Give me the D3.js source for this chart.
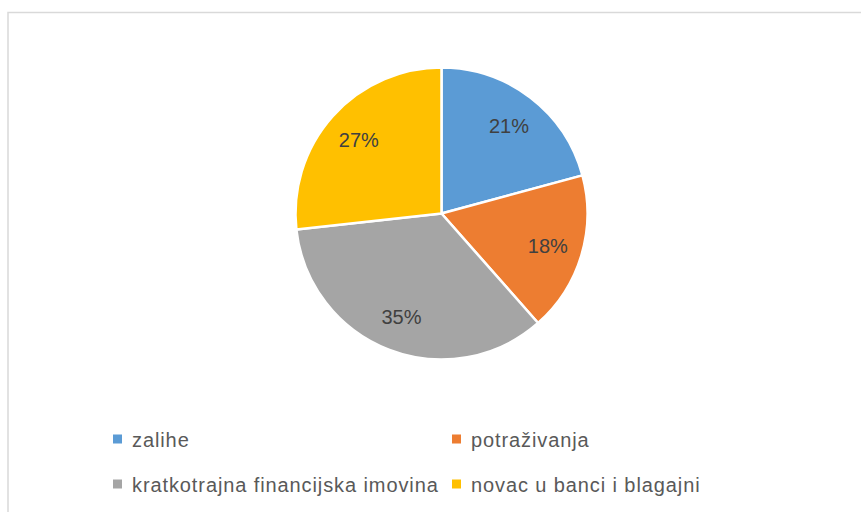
<!DOCTYPE html>
<html>
<head>
<meta charset="utf-8">
<script src="https://cdn.jsdelivr.net/npm/d3@7"></script>
<style>
  html, body { margin: 0; padding: 0; background: #fff; }
  svg { display: block; }
</style>
</head>
<body>
<svg id="chart" width="861" height="512"></svg>
<script>
const categories = ["zalihe", "potraživanja", "kratkotrajna financijska imovina", "novac u banci i blagajni"];
const values = [20.8, 17.7, 34.75, 26.75];
const labels = ["21%", "18%", "35%", "27%"];
const colors = ["#5B9BD5", "#ED7D31", "#A5A5A5", "#FFC000"];

const svg = d3.select("#chart");
const fontFam = "'Liberation Sans', Arial, sans-serif";

// chart frame
svg.append("rect")
  .attr("x", 8).attr("y", 12.5)
  .attr("width", 900).attr("height", 600)
  .attr("fill", "#fff")
  .attr("stroke", "#d9d9d9").attr("stroke-width", 1.5);

const cx = 441.5, cy = 213.5, R = 146;
const data = categories.map((c, i) => ({ cat: c, value: values[i], label: labels[i], color: colors[i] }));

const pie = d3.pie().value(d => d.value).sort(null);
const arc = d3.arc().innerRadius(0).outerRadius(R);
const labelArc = d3.arc().innerRadius(111).outerRadius(111);

const g = svg.append("g").attr("transform", `translate(${cx},${cy})`);
const arcs = pie(data);

g.selectAll("path.slice").data(arcs).join("path")
  .attr("class", "slice")
  .attr("d", arc)
  .attr("fill", d => d.data.color)
  .attr("stroke", "#fff")
  .attr("stroke-width", 2.5)
  .attr("stroke-linejoin", "round");

g.selectAll("text.lbl").data(arcs).join("text")
  .attr("class", "lbl")
  .attr("transform", d => `translate(${labelArc.centroid(d)})`)
  .attr("text-anchor", "middle")
  .attr("dy", "0.36em")
  .attr("font-family", fontFam)
  .attr("font-size", 20)
  .attr("fill", "#404040")
  .text(d => d.data.label);

// legend
const legendPos = [
  { x: 113, y: 439 },
  { x: 452, y: 439 },
  { x: 113, y: 484 },
  { x: 452, y: 484 }
];
const lg = svg.append("g");
const items = lg.selectAll("g.item").data(data).join("g")
  .attr("class", "item")
  .attr("transform", (d, i) => `translate(${legendPos[i].x},${legendPos[i].y})`);
items.append("rect")
  .attr("x", 0).attr("y", -4.5)
  .attr("width", 9).attr("height", 9)
  .attr("fill", d => d.color);
items.append("text")
  .attr("x", 19).attr("y", 8)
  .attr("font-family", fontFam)
  .attr("font-size", 20)
  .attr("letter-spacing", 0.9)
  .attr("fill", "#595959")
  .text(d => d.cat);
</script>
</body>
</html>
